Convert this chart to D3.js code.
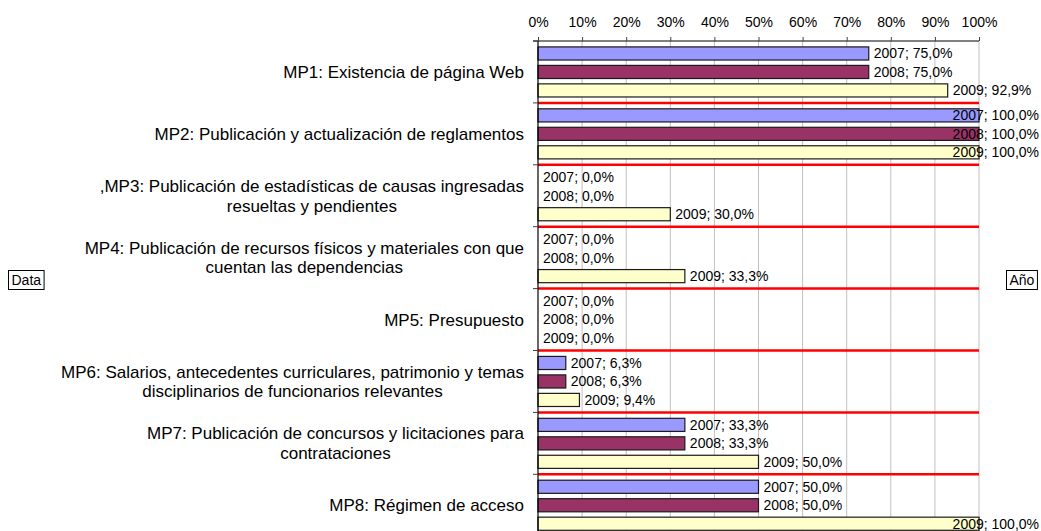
<!DOCTYPE html>
<html>
<head>
<meta charset="utf-8">
<script src="https://cdn.jsdelivr.net/npm/d3@7"></script>
<style>
	body { margin: 0; background: #fff; }
	text { font-family: "Liberation Sans", Arial, sans-serif; fill: #000; }
</style>
</head>
<body>
<svg id="chart" width="1041" height="531"></svg>
<script>

// Chart data
const categories = ["MP1", "MP2", "MP3", "MP4", "MP5", "MP6", "MP7", "MP8"];
const categoryLabels = [
	["MP1: Existencia de página Web"],
	["MP2: Publicación y actualización de reglamentos"],
	[",MP3: Publicación de estadísticas de causas ingresadas", "resueltas y pendientes"],
	["MP4: Publicación de recursos físicos y materiales con que", "cuentan las dependencias"],
	["MP5: Presupuesto"],
	["MP6: Salarios, antecedentes curriculares, patrimonio y temas", "disciplinarios de funcionarios relevantes"],
	["MP7: Publicación de concursos y licitaciones para", "contrataciones"],
	["MP8: Régimen de acceso"]
];
const years = ["2007", "2008", "2009"];
const values2007 = [75.0, 100.0, 0.0, 0.0, 0.0, 6.3, 33.3, 50.0];
const values2008 = [75.0, 100.0, 0.0, 0.0, 0.0, 6.3, 33.3, 50.0];
const values2009 = [92.9, 100.0, 30.0, 33.3, 0.0, 9.4, 50.0, 100.0];
const tickValues = [0, 10, 20, 30, 40, 50, 60, 70, 80, 90, 100];

const seriesValues = { "2007": values2007, "2008": values2008, "2009": values2009 };
const colors = { "2007": "#9999ff", "2008": "#993366", "2009": "#ffffcc" };

// Flatten to one record per bar
const bars = [];
categories.forEach((c, i) => {
	years.forEach(yr => bars.push({ cat: c, year: yr, value: seriesValues[yr][i] }));
});

const svg = d3.select("#chart");
const W = 1041;

// Scales
const x = d3.scaleLinear().domain([0, 100]).range([538, 979]);
const y = d3.scaleBand().domain(categories).range([41, 536.2]);
const y1 = d3.scaleBand().domain(years).range([0, y.bandwidth()])
	.paddingInner(0.29).paddingOuter(0.32);

// Vertical gridlines
svg.append("g")
	.selectAll("line")
	.data(tickValues.slice(1))
	.join("line")
	.attr("x1", d => x(d)).attr("x2", d => x(d))
	.attr("y1", y.range()[0]).attr("y2", y.range()[1])
	.attr("stroke", "#c0c0c0")
	.attr("stroke-width", 1);

// Bars
svg.append("g")
	.selectAll("rect")
	.data(bars)
	.join("rect")
	.attr("x", x(0))
	.attr("y", d => y(d.cat) + y1(d.year))
	.attr("width", d => x(d.value) - x(0))
	.attr("height", y1.bandwidth())
	.attr("fill", d => colors[d.year])
	.attr("stroke", "#1a1a1a")
	.attr("stroke-width", 1.2);

// Red separators between categories
svg.append("g")
	.selectAll("line")
	.data(categories.slice(1).concat(["end"]))
	.join("line")
	.attr("x1", x(0)).attr("x2", x(100))
	.attr("y1", (d, i) => y.range()[0] + (i + 1) * y.step())
	.attr("y2", (d, i) => y.range()[0] + (i + 1) * y.step())
	.attr("stroke", "#ff0000")
	.attr("stroke-width", 2.5);

// Top axis
const xAxis = svg.append("g")
	.attr("transform", `translate(0,${y.range()[0]})`)
	.call(d3.axisTop(x).tickValues(tickValues).tickFormat(d => d + "%").tickSize(4).tickPadding(10));
xAxis.select(".domain").attr("stroke", "#000").attr("d", `M${x(0) - 5},0H${x(100)}`);
xAxis.selectAll(".tick line").attr("stroke", "#404040");
xAxis.selectAll(".tick text").style("font-size", "14px").attr("fill", "#000");

// Left axis (category boundaries as ticks)
const bounds = d3.range(categories.length + 1).map(i => y.range()[0] + i * y.step());
svg.append("line")
	.attr("x1", x(0)).attr("x2", x(0))
	.attr("y1", y.range()[0]).attr("y2", y.range()[1])
	.attr("stroke", "#000").attr("stroke-width", 1.2);
svg.append("g")
	.selectAll("line")
	.data(bounds)
	.join("line")
	.attr("x1", x(0) - 5).attr("x2", x(0))
	.attr("y1", d => d).attr("y2", d => d)
	.attr("stroke", "#404040");

// Category labels, lines centred on each other, block right-aligned
const catG = svg.append("g");
categories.forEach((c, i) => {
	const lines = categoryLabels[i];
	const g = catG.append("g");
	const lineH = 19.7;
	const cy = y(c) + y.bandwidth() / 2 - (lines.length - 1) * lineH / 2;
	const texts = g.selectAll("text")
		.data(lines)
		.join("text")
		.attr("y", (d, j) => cy + j * lineH)
		.attr("dy", "0.35em")
		.attr("text-anchor", "middle")
		.style("font-size", "17px")
		.text(d => d);
	let maxW = 0;
	texts.each(function () { maxW = Math.max(maxW, this.getComputedTextLength()); });
	texts.attr("x", 524 - maxW / 2);
});

// Data labels: "2007; 75,0%"
const fmt = d => d.year + "; " + d.value.toFixed(1).replace(".", ",") + "%";
svg.append("g")
	.selectAll("text")
	.data(bars)
	.join("text")
	.attr("y", d => y(d.cat) + y1(d.year) + y1.bandwidth() / 2)
	.attr("dy", "0.35em")
	.style("font-size", "14px")
	.text(fmt)
	.attr("x", function (d) {
		const w = this.getComputedTextLength();
		return Math.min(x(d.value) + 5, W - 2 - w);
	});

// Pivot field buttons
function fieldButton(label, bx, by) {
	const g = svg.append("g").attr("transform", `translate(${bx},${by})`);
	const t = g.append("text")
		.attr("x", 3).attr("y", 9.5).attr("dy", "0.35em")
		.style("font-size", "14px")
		.text(label);
	const w = t.node().getComputedTextLength() + 6;
	g.insert("rect", "text")
		.attr("width", w).attr("height", 19)
		.attr("fill", "#fff")
		.attr("stroke", "#000");
}
fieldButton("Data", 8.5, 270.5);
fieldButton("Año", 1006.5, 270.5);

</script>
</body>
</html>
